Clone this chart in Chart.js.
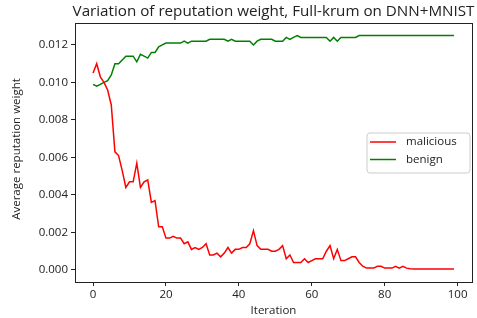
<!DOCTYPE html>
<html>
<head>
<meta charset="utf-8">
<script src="https://cdn.jsdelivr.net/npm/chart.js@4"></script>
<style>
  html, body { margin: 0; padding: 0; background: #fff; }
  #wrap { width: 477px; height: 318px; }
</style>
</head>
<body>
<div id="wrap"><canvas id="chart" width="477" height="318"></canvas></div>
<script>
const iterations = Array.from({ length: 100 }, (_, i) => i);

const malicious = [
    0.0105, 0.0110, 0.0103, 0.0100, 0.0096, 0.0088, 0.0063, 0.0061, 0.0053, 0.0044,
    0.0047, 0.0047, 0.0057, 0.0044, 0.0047, 0.0048, 0.0036, 0.0037, 0.0023, 0.0023,
    0.0017, 0.0017, 0.0018, 0.0017, 0.0017, 0.0014, 0.0015, 0.0011, 0.0012, 0.0011,
    0.0012, 0.0014, 0.0008, 0.0008, 0.0009, 0.0007, 0.0009, 0.0012, 0.0009, 0.0011,
    0.0011, 0.0012, 0.0012, 0.0014, 0.0021, 0.0013, 0.0011, 0.0011, 0.0011, 0.0010,
    0.0010, 0.0011, 0.0013, 0.0006, 0.0008, 0.0004, 0.0004, 0.0004, 0.0006, 0.0004,
    0.0005, 0.0006, 0.0006, 0.0006, 0.0010, 0.0013, 0.0006, 0.0011, 0.0005, 0.0005,
    0.0006, 0.0007, 0.0007, 0.0004, 0.0002, 0.0001, 0.0001, 0.0001, 0.0002, 0.0002,
    0.0001, 0.0001, 0.0001, 0.0002, 0.0001, 0.0002, 0.0001, 0.00007, 0.00005, 0.00005,
    0.00005, 0.00005, 0.00005, 0.00005, 0.00005, 0.00005, 0.00005, 0.00005, 0.00005, 0.00005
];

const benign = [
    0.0099, 0.0098, 0.0099, 0.0100, 0.0101, 0.0104, 0.0110, 0.0110, 0.0112, 0.0114,
    0.0114, 0.0114, 0.0111, 0.0115, 0.0114, 0.0113, 0.0116, 0.0116, 0.0119, 0.0120,
    0.0121, 0.0121, 0.0121, 0.0121, 0.0121, 0.0122, 0.0121, 0.0122, 0.0122, 0.0122,
    0.0122, 0.0122, 0.0123, 0.0123, 0.0123, 0.0123, 0.0123, 0.0122, 0.0123, 0.0122,
    0.0122, 0.0122, 0.0122, 0.0122, 0.0120, 0.0122, 0.0123, 0.0123, 0.0123, 0.0123,
    0.0122, 0.0122, 0.0122, 0.0124, 0.0123, 0.0124, 0.0125, 0.0124, 0.0124, 0.0124,
    0.0124, 0.0124, 0.0124, 0.0124, 0.0124, 0.0122, 0.0124, 0.0122, 0.0124, 0.0124,
    0.0124, 0.0124, 0.0124, 0.0125, 0.0125, 0.0125, 0.0125, 0.0125, 0.0125, 0.0125,
    0.0125, 0.0125, 0.0125, 0.0125, 0.0125, 0.0125, 0.0125, 0.0125, 0.0125, 0.0125,
    0.0125, 0.0125, 0.0125, 0.0125, 0.0125, 0.0125, 0.0125, 0.0125, 0.0125, 0.0125
];

const xTicks = [0, 20, 40, 60, 80, 100];
const yTicks = [0, 0.002, 0.004, 0.006, 0.008, 0.010, 0.012];

const FONT = "'Open Sans', sans-serif";
const TEXT = '#222';

// frame, title, y label and legend drawn like matplotlib
const mplDecor = {
    id: 'mplDecor',
    afterDraw(chart) {
        const { ctx, chartArea: a } = chart;
        ctx.save();
        ctx.strokeStyle = '#222';
        ctx.lineWidth = 1;
        ctx.strokeRect(Math.round(a.left) + 0.5, Math.round(a.top) + 0.5,
            Math.round(a.right - a.left), Math.round(a.bottom - a.top));

        ctx.fillStyle = TEXT;
        ctx.font = '15.2px ' + FONT;
        ctx.textAlign = 'center';
        ctx.textBaseline = 'middle';
        ctx.fillText('Variation of reputation weight, Full-krum on DNN+MNIST', (a.left + a.right) / 2, 12);

        // y axis label
        ctx.save();
        ctx.translate(17, 149);
        ctx.rotate(-Math.PI / 2);
        ctx.font = '11.5px ' + FONT;
        ctx.fillText('Average reputation weight', 0, 0);
        ctx.restore();

        // legend box
        const bx = 367, by = 133, bw = 103, bh = 40, r = 3;
        ctx.beginPath();
        ctx.moveTo(bx + r, by);
        ctx.arcTo(bx + bw, by, bx + bw, by + bh, r);
        ctx.arcTo(bx + bw, by + bh, bx, by + bh, r);
        ctx.arcTo(bx, by + bh, bx, by, r);
        ctx.arcTo(bx, by, bx + bw, by, r);
        ctx.closePath();
        ctx.fillStyle = 'rgba(255,255,255,0.8)';
        ctx.fill();
        ctx.strokeStyle = '#cccccc';
        ctx.stroke();

        ctx.font = '11.5px ' + FONT;
        ctx.textAlign = 'left';
        chart.data.datasets.forEach((ds, i) => {
            const y = 142 + i * 17.5;
            ctx.strokeStyle = ds.borderColor;
            ctx.lineWidth = 1.5;
            ctx.beginPath();
            ctx.moveTo(370, y);
            ctx.lineTo(396, y);
            ctx.stroke();
            ctx.fillStyle = TEXT;
            ctx.fillText(ds.label, 406, y);
        });
        ctx.restore();
    }
};

new Chart(document.getElementById('chart'), {
    type: 'line',
    data: {
        datasets: [
            {
                label: 'malicious',
                data: malicious.map((v, i) => ({ x: iterations[i], y: v })),
                borderColor: '#ff0000',
                borderWidth: 1.5,
                pointRadius: 0,
                tension: 0,
                fill: false
            },
            {
                label: 'benign',
                data: benign.map((v, i) => ({ x: iterations[i], y: v })),
                borderColor: '#008000',
                borderWidth: 1.5,
                pointRadius: 0,
                tension: 0,
                fill: false
            }
        ]
    },
    options: {
        responsive: false,
        animation: false,
        layout: { padding: { top: 23, right: 5, bottom: 0, left: 0 } },
        plugins: {
            legend: { display: false },
            title: { display: false },
            tooltip: { enabled: false }
        },
        scales: {
            x: {
                type: 'linear',
                min: -4.95,
                max: 103.95,
                afterBuildTicks: s => { s.ticks = xTicks.map(v => ({ value: v })); },
                afterFit: s => { s.height = 36; },
                grid: { drawOnChartArea: false, drawTicks: true, tickLength: 4, color: '#222' },
                border: { display: false },
                ticks: { color: TEXT, font: { family: FONT, size: 11.5 }, padding: 2, maxRotation: 0 },
                title: { display: true, text: 'Iteration', color: TEXT, font: { family: FONT, size: 11.5 }, padding: { top: 0, bottom: 0 } }
            },
            y: {
                min: -0.00064,
                max: 0.01317,
                afterBuildTicks: s => { s.ticks = yTicks.map(v => ({ value: v })); },
                afterFit: s => { s.width = 75; },
                grid: { drawOnChartArea: false, drawTicks: true, tickLength: 4, color: '#222' },
                border: { display: false },
                ticks: { color: TEXT, font: { family: FONT, size: 11.5 }, padding: 3, callback: v => v.toFixed(3) }
            }
        }
    },
    plugins: [mplDecor]
});
</script>
</body>
</html>
